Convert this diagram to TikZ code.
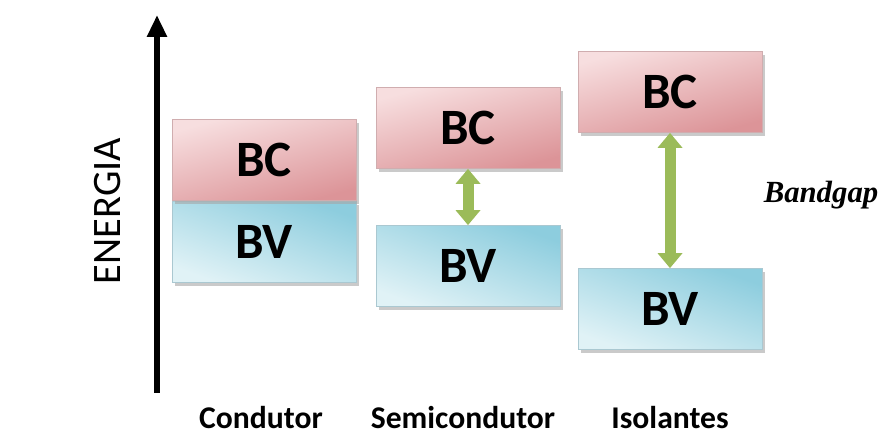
\documentclass[tikz,border=0pt]{standalone}
\usepackage{fontspec}
\setmainfont{Carlito}
\newfontfamily\gapfont{Liberation Serif}
\usepackage{tikz}
\usetikzlibrary{arrows.meta,shadows}

\definecolor{bcLight}{HTML}{F7DEDF}
\definecolor{bcDark}{HTML}{DC9498}
\definecolor{bvLight}{HTML}{E0F2F6}
\definecolor{bvDark}{HTML}{8DCDDE}
\definecolor{gapGreen}{HTML}{9BBB59}

\tikzset{
  band/.style={minimum width=36.8mm, minimum height=16.2mm, inner sep=0pt,
    font=\fontsize{29}{34}\selectfont\bfseries,
    drop shadow={shadow xshift=0.6mm, shadow yshift=-0.8mm, fill=black!35, opacity=0.6}},
  bcband/.style={band, draw=bcDark!80!black!60, top color=bcLight, bottom color=bcDark, shading angle=15},
  bvband/.style={band, draw=bvDark!80!black!60, top color=bvDark, bottom color=bvLight, shading angle=-20},
  gaparrow/.style={draw=gapGreen, line width=2.2mm, {Triangle[width=4.8mm,length=3mm]}-{Triangle[width=4.8mm,length=3mm]}},
  matlabel/.style={anchor=base, inner sep=1pt, font=\fontsize{18}{22}\selectfont\bfseries}
}

\begin{document}
\begin{tikzpicture}[x=0.2mm, y=-0.2mm]
  \useasboundingbox (0,0) rectangle (886,437);

  % energy axis
  \coordinate (ebase) at (157,393);
  \coordinate (etop) at (157,15);
  \path[draw, line width=1.2mm, -{Triangle[width=3.8mm,length=4.4mm]}] (ebase) -- (etop);
  \node[rotate=90, font=\fontsize{23}{28}\selectfont] (energia) at (108,211) {ENERGIA};

  % conductor
  \node[bvband] (cBV) at (264,242) {BV};
  \node[bcband] (cBC) at (264,160) {BC};

  % semiconductor
  \node[bcband] (sBC) at (468,128) {BC};
  \node[bvband] (sBV) at (468,266) {BV};
  \path[gaparrow] (sBC.south) -- (sBV.north);

  % insulator
  \node[bcband] (iBC) at (670,92) {BC};
  \node[bvband] (iBV) at (670,309) {BV};
  \path[gaparrow] (iBC.south) -- (iBV.north);
  \node[anchor=base, font=\gapfont\fontsize{17.5}{20}\selectfont\bfseries\itshape] (gap) at (821,203) {Bandgap};

  % material names
  \node[matlabel] (lcond) at (261,429) {Condutor};
  \node[matlabel] (lsemi) at (463,429) {Semicondutor};
  \node[matlabel] (liso) at (670,429) {Isolantes};
\end{tikzpicture}
\end{document}
